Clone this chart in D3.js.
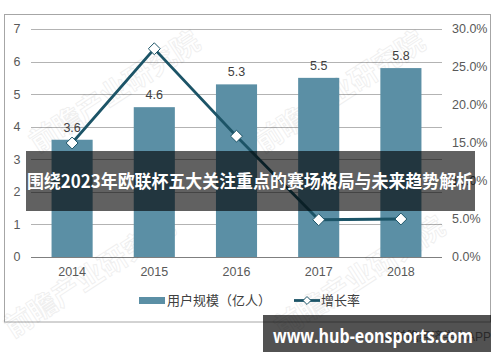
<!DOCTYPE html>
<html lang="zh">
  <head>
    <meta charset="UTF-8" />
    <title>用户规模与增长率</title>
    <script src="https://cdn.jsdelivr.net/npm/d3@7/dist/d3.min.js"></script>
    <style>
      html,
      body {
        margin: 0;
        padding: 0;
        background: #fff;
      }
      svg text {
        font-family: 'Liberation Sans', Arial, 'Noto Sans CJK SC', sans-serif;
      }
    </style>
  </head>
  <body>
    <script>
      const years = ['2014', '2015', '2016', '2017', '2018'];
      const users = [3.6, 4.6, 5.3, 5.5, 5.8];
      const growth = [15.0, 27.4, 15.9, 4.9, 5.0];
      const leftTicks = [0, 1, 2, 3, 4, 5, 6, 7];
      const rightTicks = [0, 5, 10, 15, 20, 25, 30];

      const width = 500,
        height = 362;
      const plot = { left: 31, right: 442, top: 29, bottom: 257 };

      const svg = d3
        .select('body')
        .append('svg')
        .attr('width', width)
        .attr('height', height);

      // frame
      svg
        .append('rect')
        .attr('x', 4.5)
        .attr('y', 14.5)
        .attr('width', 486)
        .attr('height', 307.5)
        .style('fill', '#fff')
        .style('stroke', '#a6a6a6');

      const x = d3
        .scaleBand()
        .domain(years)
        .range([plot.left, plot.right])
        .paddingInner(0.5)
        .paddingOuter(0.25);

      const y = d3.scaleLinear().domain([0, 7]).range([plot.bottom, plot.top]);
      const y2 = d3
        .scaleLinear()
        .domain([0, 30])
        .range([plot.bottom, plot.top]);

      // gridlines
      svg
        .append('g')
        .selectAll('line')
        .data(leftTicks)
        .join('line')
        .attr('x1', plot.left)
        .attr('x2', plot.right)
        .attr('y1', d => Math.round(y(d)) + 0.5)
        .attr('y2', d => Math.round(y(d)) + 0.5)
        .style('stroke', d => (d === 0 ? '#7f7f7f' : '#b3b3b3'))
        .style('stroke-width', 1);

      // left axis labels
      svg
        .append('g')
        .selectAll('text')
        .data(leftTicks)
        .join('text')
        .attr('x', 17)
        .attr('y', d => y(d))
        .attr('dy', '0.35em')
        .attr('text-anchor', 'middle')
        .style('font-size', '12.5px')
        .style('fill', '#595959')
        .text(d => d);

      // right axis labels
      svg
        .append('g')
        .selectAll('text')
        .data(rightTicks)
        .join('text')
        .attr('x', 452)
        .attr('y', d => y2(d))
        .attr('dy', '0.35em')
        .style('font-size', '12.5px')
        .style('fill', '#595959')
        .text(d => d3.format('.1f')(d) + '%');

      // x labels
      svg
        .append('g')
        .selectAll('text')
        .data(years)
        .join('text')
        .attr('x', d => x(d) + x.bandwidth() / 2)
        .attr('y', 272)
        .attr('dy', '0.35em')
        .attr('text-anchor', 'middle')
        .style('font-size', '12.5px')
        .style('fill', '#595959')
        .text(d => d);

      // watermarks
      const marks = [
        [120, 100],
        [345, 100],
        [95, 285],
        [365, 285]
      ];
      svg
        .append('g')
        .selectAll('text')
        .data(marks)
        .join('text')
        .attr('transform', d => `translate(${d[0]},${d[1]}) rotate(-33)`)
        .attr('text-anchor', 'middle')
        .style('font-family', "'Noto Sans CJK SC', sans-serif")
        .style('font-size', '28px')
        .style('font-weight', 'bold')
        .style('fill', 'none')
        .style('stroke', '#000')
        .style('stroke-width', 1)
        .style('opacity', 0.06)
        .text('前瞻产业研究院');

      // bars
      svg
        .append('g')
        .selectAll('rect')
        .data(users)
        .join('rect')
        .attr('x', (d, i) => x(years[i]))
        .attr('y', d => y(d))
        .attr('width', x.bandwidth())
        .attr('height', d => y(0) - y(d))
        .style('fill', '#5b8fa5');

      svg
        .append('g')
        .selectAll('text')
        .data(users)
        .join('text')
        .attr('x', (d, i) => x(years[i]) + x.bandwidth() / 2)
        .attr('y', d => y(d) - 8)
        .attr('text-anchor', 'middle')
        .style('font-size', '12.5px')
        .style('fill', '#404040')
        .text(d => d3.format('.1f')(d));

      // growth line
      const cx = (d, i) => x(years[i]) + x.bandwidth() / 2;
      const line = d3
        .line()
        .x(cx)
        .y(d => y2(d));

      svg
        .append('path')
        .datum(growth)
        .attr('d', line)
        .style('fill', 'none')
        .style('stroke', '#1c5467')
        .style('stroke-width', 2.8);

      const diamond = d3.symbol().type(d3.symbolDiamond2).size(90);
      svg
        .append('g')
        .selectAll('path')
        .data(growth)
        .join('path')
        .attr('d', diamond)
        .attr('transform', (d, i) => `translate(${cx(d, i)},${y2(d)})`)
        .style('fill', '#fff')
        .style('stroke', '#1c5467')
        .style('stroke-width', 1);

      // legend
      const legend = svg.append('g');
      legend
        .append('rect')
        .attr('x', 139)
        .attr('y', 297)
        .attr('width', 26)
        .attr('height', 7)
        .style('fill', '#5b8fa5');
      legend
        .append('text')
        .attr('x', 167)
        .attr('y', 300.5)
        .attr('dy', '0.35em')
        .style('font-size', '13px')
        .style('fill', '#404040')
        .text('用户规模（亿人）');
      legend
        .append('line')
        .attr('x1', 294)
        .attr('x2', 320)
        .attr('y1', 300.5)
        .attr('y2', 300.5)
        .style('stroke', '#1c5467')
        .style('stroke-width', 2.8);
      legend
        .append('path')
        .attr('d', d3.symbol().type(d3.symbolDiamond2).size(40))
        .attr('transform', 'translate(307,300.5)')
        .style('fill', '#fff')
        .style('stroke', '#1c5467');
      legend
        .append('text')
        .attr('x', 321)
        .attr('y', 300.5)
        .attr('dy', '0.35em')
        .style('font-size', '13px')
        .style('fill', '#404040')
        .text('增长率');

      // source text under the bottom banner
      svg
        .append('text')
        .attr('x', 491)
        .attr('y', 337)
        .attr('dy', '0.35em')
        .attr('text-anchor', 'end')
        .style('font-size', '12px')
        .style('fill', '#7f7f7f')
        .text('@前瞻经济学人APP');

      // title banner
      svg
        .append('rect')
        .attr('x', 26)
        .attr('y', 151)
        .attr('width', 449)
        .attr('height', 60)
        .style('fill', 'rgba(0, 0, 0, 0.62)');
      svg
        .append('text')
        .attr('x', 250)
        .attr('y', 182)
        .attr('dy', '0.35em')
        .attr('text-anchor', 'middle')
        .attr('textLength', 446)
        .attr('lengthAdjust', 'spacingAndGlyphs')
        .style('font-family', "'Noto Sans CJK SC', sans-serif")
        .style('font-size', '18px')
        .style('font-weight', 'bold')
        .style('fill', '#fff')
        .text('围绕2023年欧联杯五大关注重点的赛场格局与未来趋势解析');

      // url banner
      svg
        .append('rect')
        .attr('x', 263)
        .attr('y', 315)
        .attr('width', 228)
        .attr('height', 37)
        .style('fill', 'rgba(0, 0, 0, 0.68)');
      svg
        .append('text')
        .attr('x', 373)
        .attr('y', 336)
        .attr('dy', '0.35em')
        .attr('text-anchor', 'middle')
        .attr('textLength', 200)
        .attr('lengthAdjust', 'spacingAndGlyphs')
        .style('font-family', "'Open Sans', 'DejaVu Sans', sans-serif")
        .style('font-size', '19px')
        .style('font-weight', 'bold')
        .style('fill', '#fff')
        .text('www.hub-eonsports.com');
    </script>
  </body>
</html>
